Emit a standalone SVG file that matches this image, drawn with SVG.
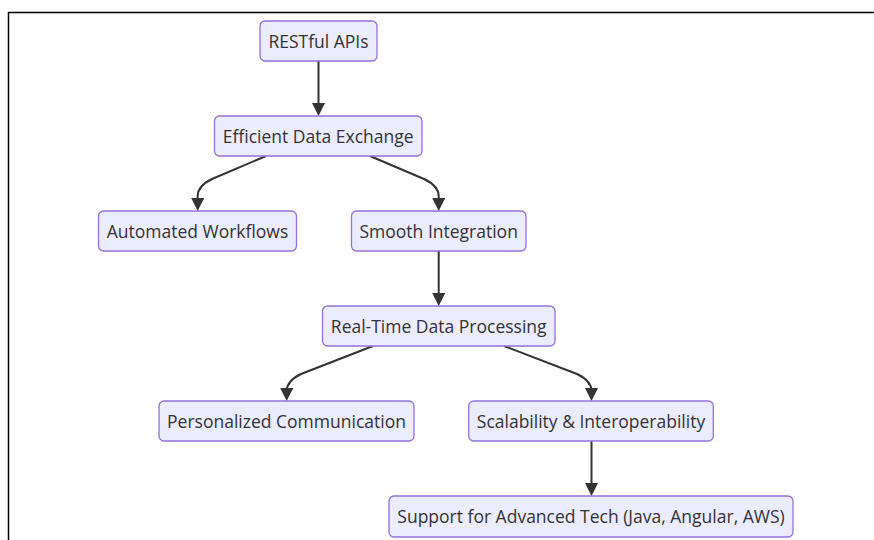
<svg xmlns="http://www.w3.org/2000/svg" width="874" height="540" viewBox="0 0 874 540">
  <defs>
    <style>
      .node rect { fill: #ECECFF; stroke: #9370DB; stroke-width: 1.3; }
      .node text { font-family: "Open Sans", "Noto Sans", "Liberation Sans", sans-serif; font-size: 17.5px; fill: #333333; text-anchor: middle; }
      .edge { fill: none; stroke: #333333; stroke-width: 2; }
      .frame { stroke: #000000; stroke-width: 1.5; fill: none; }
    </style>
    <marker id="arrow" viewBox="0 0 10 10" refX="5" refY="5" markerUnits="userSpaceOnUse" markerWidth="13" markerHeight="13" orient="auto">
      <path d="M0,0 L10,5 L0,10 z" fill="#333333"/>
    </marker>
  </defs>
  <rect width="874" height="540" fill="#ffffff"/>
  <path class="frame" d="M8.5,540 L8.5,12.5 L874,12.5"/>

  <g id="connectors">
    <path class="edge" d="M318.5,61 L318.5,109.5" marker-end="url(#arrow)"/>
    <path class="edge" d="M266,156 L212,179 Q197.7,186 197.7,196 L197.7,204.5" marker-end="url(#arrow)"/>
    <path class="edge" d="M370,156 L424,179 Q438.7,186 438.7,196 L438.7,204.5" marker-end="url(#arrow)"/>
    <path class="edge" d="M438.7,251 L438.7,299.5" marker-end="url(#arrow)"/>
    <path class="edge" d="M373,346 L301,374 Q286.7,381 286.7,391 L286.7,394.5" marker-end="url(#arrow)"/>
    <path class="edge" d="M504,346 L577,374 Q591.5,381 591.5,391 L591.5,394.5" marker-end="url(#arrow)"/>
    <path class="edge" d="M591.5,441 L591.5,489.5" marker-end="url(#arrow)"/>
  </g>

  <g id="restful" class="node">
    <rect x="260" y="21" width="117" height="40" rx="5"/>
    <text x="318.5" y="47.5">RESTful APIs</text>
  </g>
  <g id="efficient" class="node">
    <rect x="214.5" y="116" width="207.5" height="40" rx="5"/>
    <text x="318.2" y="142.5">Efficient Data Exchange</text>
  </g>
  <g id="automated" class="node">
    <rect x="98.5" y="211" width="198" height="40" rx="5"/>
    <text x="197.5" y="237.5">Automated Workflows</text>
  </g>
  <g id="smooth" class="node">
    <rect x="351.5" y="211" width="174.5" height="40" rx="5"/>
    <text x="438.7" y="237.5">Smooth Integration</text>
  </g>
  <g id="realtime" class="node">
    <rect x="322.5" y="306" width="232.5" height="40" rx="5"/>
    <text x="438.7" y="332.5">Real-Time Data Processing</text>
  </g>
  <g id="personalized" class="node">
    <rect x="159" y="401" width="255" height="40" rx="5"/>
    <text x="286.5" y="427.5">Personalized Communication</text>
  </g>
  <g id="scalability" class="node">
    <rect x="468.7" y="401" width="244.6" height="40" rx="5"/>
    <text x="591" y="427.5">Scalability &amp; Interoperability</text>
  </g>
  <g id="support" class="node">
    <rect x="389" y="496" width="404" height="41" rx="5"/>
    <text x="591" y="523">Support for Advanced Tech (Java, Angular, AWS)</text>
  </g>
</svg>
